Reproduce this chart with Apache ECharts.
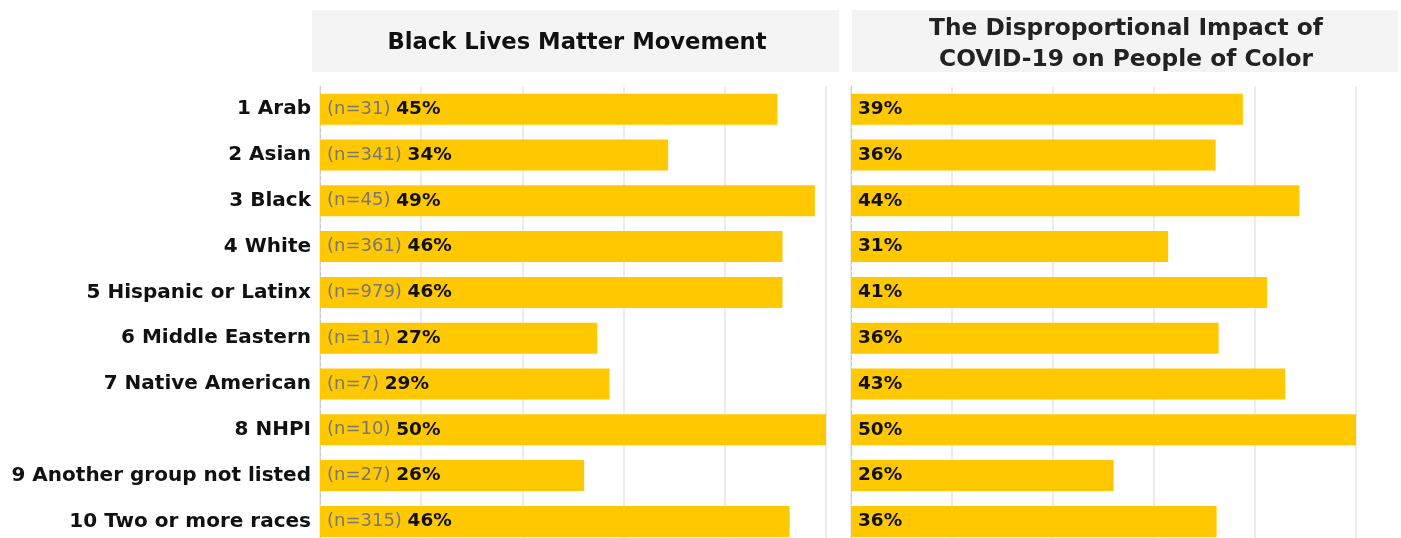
<!DOCTYPE html>
<html>
<head>
<meta charset="utf-8">
<script src="https://cdn.jsdelivr.net/npm/echarts@6/dist/echarts.min.js"></script>
<style>html,body{margin:0;padding:0;background:#fff;overflow:hidden}#c{width:1401px;height:560px}</style>
</head>
<body>
<div id="c"></div>
<script>
var categories = ['1 Arab','2 Asian','3 Black','4 White','5 Hispanic or Latinx','6 Middle Eastern','7 Native American','8 NHPI','9 Another group not listed','10 Two or more races'];
var sampleSizes = [31, 341, 45, 361, 979, 11, 7, 10, 27, 315];
var blmValues = [45.2, 34.4, 48.9, 45.7, 45.7, 27.4, 28.6, 50.0, 26.1, 46.4];
var covidValues = [38.8, 36.1, 44.4, 31.4, 41.2, 36.4, 43.0, 50.0, 26.0, 36.2];
var titles = ['Black Lives Matter Movement', 'The Disproportional Impact of\nCOVID-19 on People of Color'];
var axisMax = 50;

var FONT = '"DejaVu Sans", sans-serif';
var chart = echarts.init(document.getElementById('c'));

function xAxis(idx){
  return {gridIndex: idx, type:'value', min:0, max:axisMax, interval:10,
    axisLabel:{show:false}, axisTick:{show:false}, axisLine:{show:false},
    splitLine:{show:true, lineStyle:{color:'#ececec', width:2}}};
}
function yAxis(idx, showLabels){
  return {gridIndex: idx, type:'category', data:categories, inverse:true,
    axisTick:{show:false},
    axisLine:{show:true, lineStyle:{color:'#c8c8c8', type:'dashed', width:1}},
    axisLabel:{show:showLabels, color:'#111', fontFamily:FONT, fontWeight:'bold', fontSize:20, margin:9}};
}

var option = {
  animation:false,
  graphic:[
    {type:'rect', shape:{x:312, y:10, width:527, height:62}, style:{fill:'#f4f4f4'}, z:-1},
    {type:'rect', shape:{x:852, y:10, width:546, height:62}, style:{fill:'#f4f4f4'}, z:-1}
  ],
  title:[
    {text:titles[0], left:572, top:27, textAlign:'center',
      textStyle:{fontFamily:FONT, fontWeight:'bold', fontSize:22.7, color:'#111'}},
    {text:titles[1], left:1121, top:8, textAlign:'center',
      textStyle:{fontFamily:FONT, fontWeight:'bold', fontSize:23.3, color:'#222', lineHeight:31}}
  ],
  grid:[
    {left:320, top:86.3, width:506, height:458},
    {left:851, top:86.3, width:505, height:458}
  ],
  xAxis:[xAxis(0), xAxis(1)],
  yAxis:[yAxis(0, true), yAxis(1, false)],
  series:[
    {type:'bar', xAxisIndex:0, yAxisIndex:0, data:blmValues, barWidth:31,
      itemStyle:{color:'#ffc800'},
      label:{show:true, position:'insideLeft', distance:7,
        formatter:function(p){return '{n|(n=' + sampleSizes[p.dataIndex] + ') }{v|' + Math.round(p.value) + '%}';},
        rich:{n:{color:'#777', fontFamily:FONT, fontSize:18}, v:{color:'#111', fontFamily:FONT, fontWeight:'bold', fontSize:18.5}}}},
    {type:'bar', xAxisIndex:1, yAxisIndex:1, data:covidValues, barWidth:31,
      itemStyle:{color:'#ffc800'},
      label:{show:true, position:'insideLeft', distance:7,
        formatter:function(p){return '{v|' + Math.round(p.value) + '%}';},
        rich:{v:{color:'#111', fontFamily:FONT, fontWeight:'bold', fontSize:18.5}}}}
  ]
};
chart.setOption(option);
</script>
</body>
</html>
